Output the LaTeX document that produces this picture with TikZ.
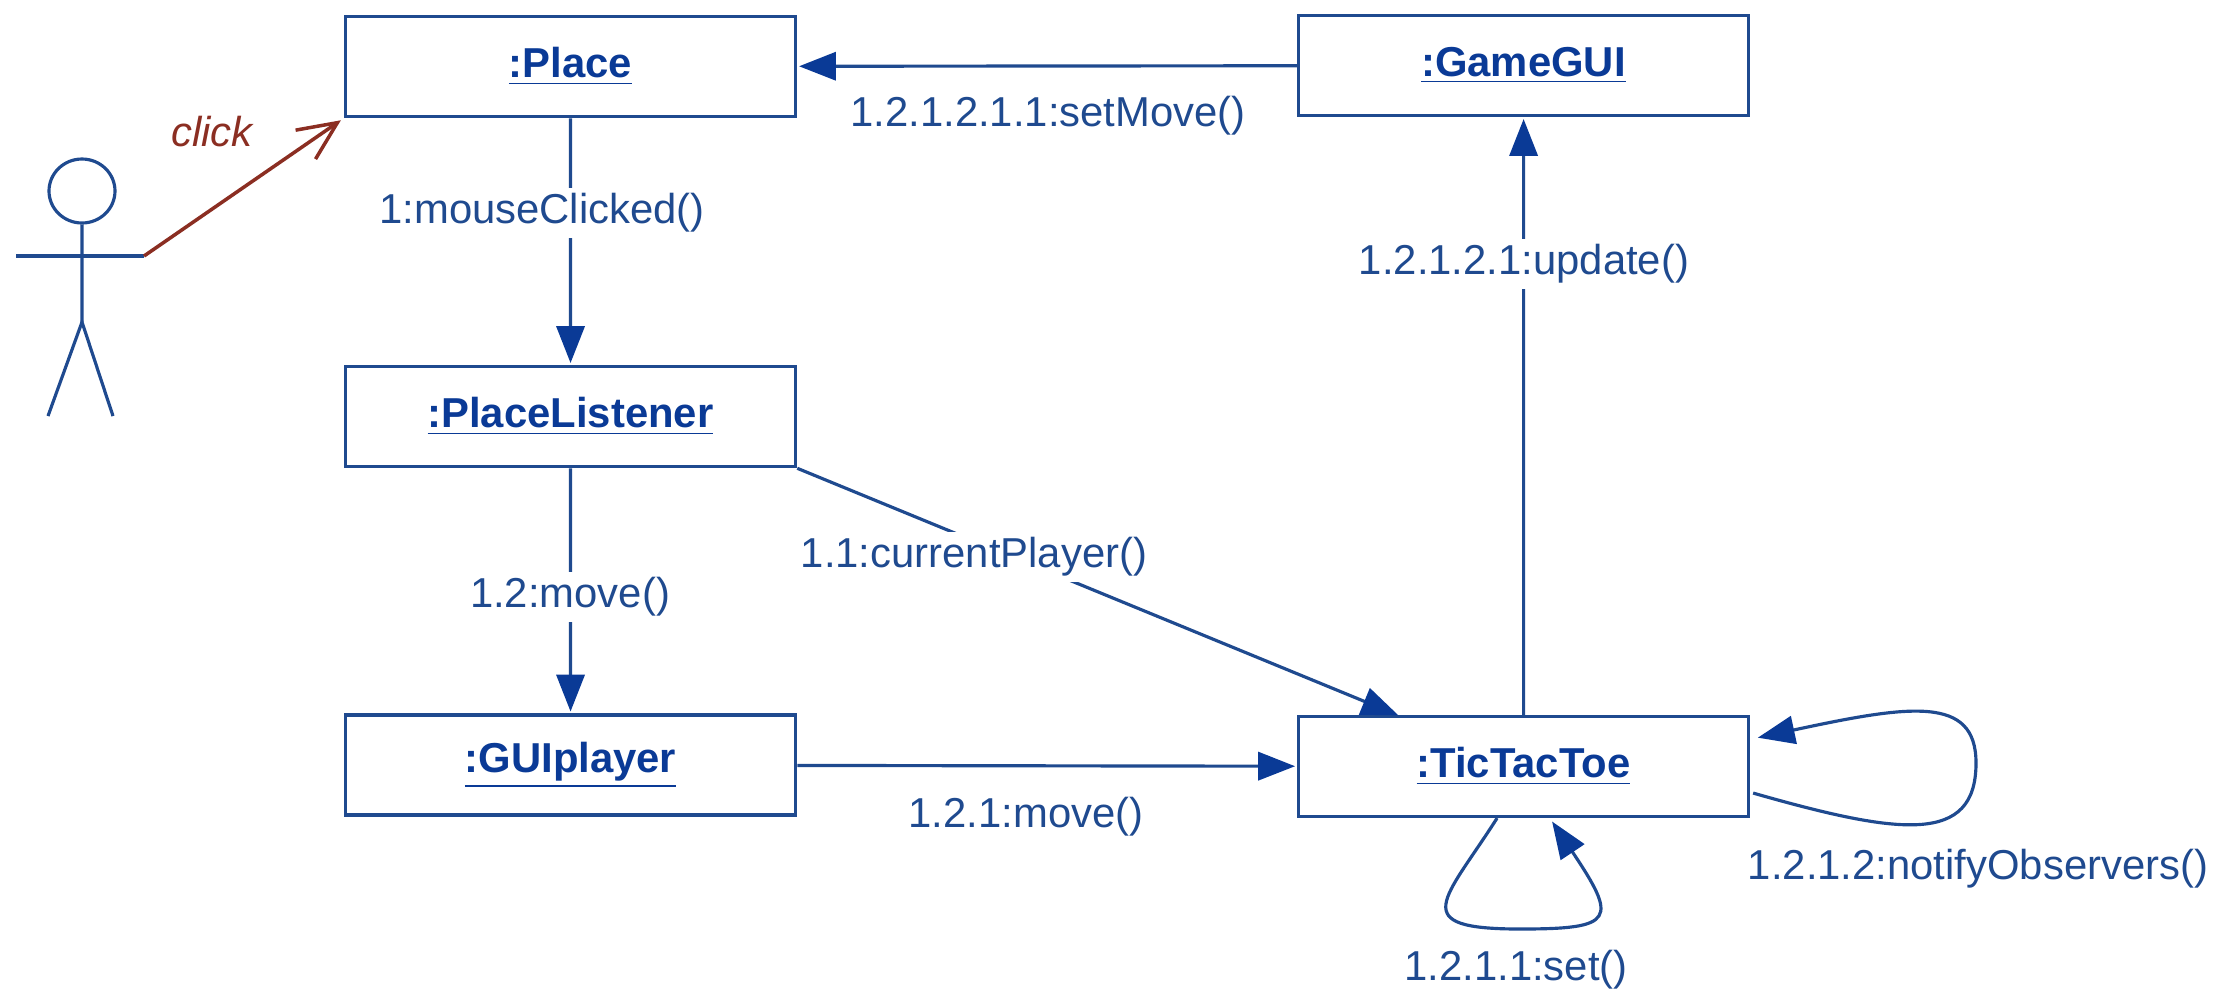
\documentclass[tikz,border=0pt]{standalone}
\usepackage{fontspec}
\setmainfont{Liberation Sans}
\usetikzlibrary{arrows.meta,shapes.geometric}
\definecolor{umlblue}{HTML}{1F4A8F}
\definecolor{umlhead}{HTML}{0A3A96}
\definecolor{umlred}{HTML}{8B2E22}
\tikzset{
  objbox/.style={draw=umlblue, line width=1pt, fill=white, minimum width=4.5cm, minimum height=1cm, inner sep=0pt, text=umlhead, font=\fontsize{11.9}{14}\bfseries\selectfont},
  msg/.style={draw=umlblue, line width=0.9pt, -{Triangle[length=10.5pt,width=8pt,color=umlhead]}, shorten >=0.5pt},
  msglabel/.style={fill=white, inner sep=1.5pt, text=umlblue, font=\fontsize{11.9}{14}\selectfont},
  actorline/.style={draw=umlblue, line width=0.9pt},
}
\begin{document}
\begin{tikzpicture}[scale=0.1]
    \useasboundingbox (0,0) rectangle (222.9,-99);
    % objects
    \node [objbox] (place) at (57.05,-6.65) {\underline{:Place}};
    \node [objbox] (placelistener) at (57.05,-41.65) {\underline{:PlaceListener}};
    \node [objbox] (guiplayer) at (57.05,-76.5) {\underline{:GUIplayer}};
    \node [objbox] (gamegui) at (152.35,-6.55) {\underline{:GameGUI}};
    \node [objbox] (tictactoe) at (152.35,-76.65) {\underline{:TicTacToe}};
    % actor
    \node [actorline, ellipse, minimum width=0.66cm, minimum height=0.64cm, inner sep=0pt] (head) at (8.2,-19.1) {};
    \coordinate (armleft) at (1.6,-25.6);
    \coordinate (hand) at (14.4,-25.6);
    \coordinate (hip) at (8.2,-32.2);
    \coordinate (footleft) at (4.8,-41.6);
    \coordinate (footright) at (11.3,-41.6);
    \draw [actorline] (head) -- (hip);
    \draw [actorline, line width=1.2pt] (armleft) -- (hand);
    \draw [actorline] (footleft) -- (hip) -- (footright);
    % messages
    \draw [draw=umlred, line width=1pt, -{Straight Barb[length=11pt,width=10pt]}, shorten >=1pt] (hand) -- (place.south west);
    \draw [msg] (place) -- (placelistener);
    \draw [msg] (placelistener) -- (guiplayer);
    \draw [msg] (guiplayer) -- (tictactoe);
    \draw [msg] (tictactoe) -- (gamegui);
    \draw [msg] (gamegui) -- (place);
    \coordinate (slantend) at (140,-71.6);
    \draw [msg] (placelistener.south east) -- (slantend);
    % self calls
    \coordinate (rightout) at (175.3,-79.3);
    \coordinate (rightin) at (175.6,-73.8);
    \coordinate (bottomout) at (149.7,-81.8);
    \coordinate (bottomin) at (155.1,-82);
    \draw [msg] (rightout) .. controls (190,-83.5) and (197.6,-84.5) .. (197.6,-76.3) .. controls (197.6,-69.5) and (191,-70.5) .. (rightin);
    \draw [msg] (bottomout) .. controls (144.5,-90) and (140.5,-92.9) .. (152,-92.9) .. controls (161.5,-92.9) and (161.8,-92) .. (bottomin);
    % labels
    \node [font=\fontsize{11.9}{14}\itshape\selectfont, text=umlred, inner sep=0pt] (clicklabel) at (21.2,-13.2) {click};
    \node [msglabel] (mouselabel) at (54.2,-21.3) {1:mouseClicked()};
    \node [msglabel] (movelabel) at (57,-59.7) {1.2:move()};
    \node [msglabel] (currentlabel) at (97.4,-55.7) {1.1:currentPlayer()};
    \node [msglabel, fill=none] (guimovelabel) at (102.6,-81.7) {1.2.1:move()};
    \node [msglabel] (updatelabel) at (152.4,-26.4) {1.2.1.2.1:update()};
    \node [msglabel, fill=none] (setmovelabel) at (104.8,-11.6) {1.2.1.2.1.1:setMove()};
    \node [msglabel, fill=none] (notifylabel) at (197.8,-86.9) {1.2.1.2:notifyObservers()};
    \node [msglabel, fill=none] (setlabel) at (151.6,-97) {1.2.1.1:set()};
\end{tikzpicture}
\end{document}
